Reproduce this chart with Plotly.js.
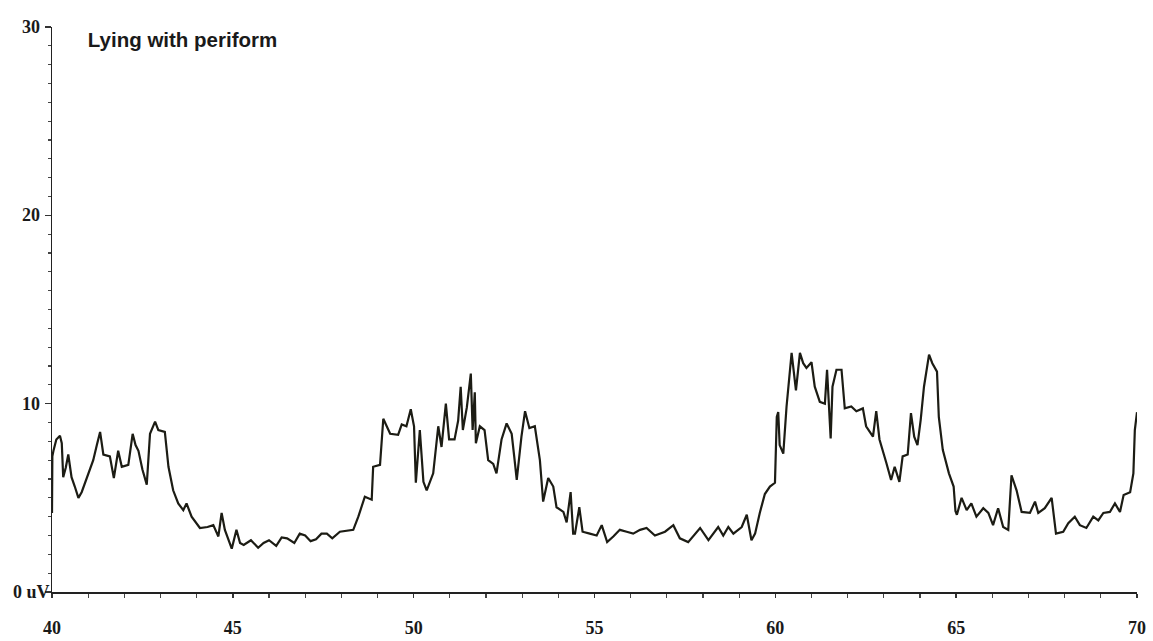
<!DOCTYPE html>
<html>
<head>
<meta charset="utf-8">
<script src="https://cdn.plot.ly/plotly-3.0.1.min.js"></script>
<style>html,body{margin:0;padding:0;background:#fff;}#chart{width:1153px;height:641px;}</style>
</head>
<body>
<div id="chart"></div>
<script>
const chartTitle = "Lying with periform";

const timeSec = [
  40.0, 40.01, 40.04, 40.12, 40.22, 40.27, 40.31, 40.38, 40.45, 40.54, 40.63, 40.73, 40.82, 40.91,
  41.02, 41.14, 41.24, 41.33, 41.42, 41.6, 41.71, 41.83, 41.93, 42.11, 42.23, 42.31, 42.39, 42.5,
  42.62, 42.71, 42.85, 42.94, 43.12, 43.22, 43.35, 43.49, 43.63, 43.72, 43.86, 44.09, 44.3, 44.46,
  44.6, 44.69, 44.78, 44.9, 44.97, 45.1, 45.2, 45.3, 45.5, 45.7, 45.85, 46.0, 46.2, 46.35, 46.5,
  46.7, 46.85, 47.0, 47.15, 47.3, 47.45, 47.6, 47.75, 47.96, 48.15, 48.33, 48.47, 48.65, 48.84,
  48.88, 49.07, 49.16, 49.35, 49.57, 49.67, 49.8, 49.92, 50.01, 50.06, 50.11, 50.17, 50.27, 50.36,
  50.54, 50.68, 50.77, 50.89, 50.98, 51.13, 51.23, 51.3, 51.36, 51.47, 51.58, 51.63, 51.69, 51.72,
  51.83, 51.96, 52.06, 52.2, 52.29, 52.43, 52.57, 52.71, 52.78, 52.85, 52.98, 53.08, 53.2, 53.35,
  53.49, 53.58, 53.72, 53.86, 53.95, 54.14, 54.23, 54.34, 54.41, 54.46, 54.58, 54.67, 54.87, 55.06,
  55.2, 55.35, 55.52, 55.7, 55.89, 56.07, 56.26, 56.44, 56.67, 56.95, 57.18, 57.36, 57.59, 57.92,
  58.15, 58.42, 58.56, 58.7, 58.84, 59.07, 59.21, 59.34, 59.44, 59.57, 59.71, 59.85, 59.99, 60.04,
  60.08, 60.12, 60.22, 60.31, 60.45, 60.57, 60.68, 60.77, 60.86, 61.0, 61.09, 61.23, 61.37, 61.43,
  61.53, 61.58, 61.69, 61.83, 61.92, 62.1, 62.24, 62.42, 62.51, 62.7, 62.79, 62.88, 63.07, 63.2,
  63.3, 63.43, 63.52, 63.66, 63.75, 63.84, 63.93, 64.02, 64.11, 64.25, 64.34, 64.47, 64.52, 64.63,
  64.8, 64.93, 64.98, 65.02, 65.15, 65.29, 65.42, 65.56, 65.75, 65.89, 66.02, 66.16, 66.3, 66.44,
  66.53, 66.67, 66.81, 67.04, 67.18, 67.27, 67.45, 67.64, 67.76, 67.96, 68.1, 68.28, 68.42, 68.6,
  68.79, 68.93, 69.07, 69.25, 69.39, 69.53, 69.63, 69.81, 69.9, 69.94, 70.0
];

const emgUV = [
  4.2, 7.2, 7.5, 8.1, 8.3, 7.9, 6.1, 6.6, 7.3, 6.1, 5.6, 5.0, 5.3, 5.8,
  6.4, 7.0, 7.8, 8.5, 7.3, 7.2, 6.05, 7.5, 6.65, 6.75, 8.4, 7.8, 7.5, 6.5,
  5.7, 8.4, 9.05, 8.6, 8.5, 6.65, 5.4, 4.7, 4.35, 4.7, 4.0, 3.4, 3.45, 3.55,
  2.95, 4.2, 3.3, 2.7, 2.3, 3.3, 2.6, 2.5, 2.75, 2.35, 2.6, 2.75, 2.45, 2.9, 2.85,
  2.6, 3.1, 3.0, 2.7, 2.8, 3.1, 3.1, 2.85, 3.2, 3.25, 3.3, 4.0, 5.06, 4.9,
  6.65, 6.75, 9.2, 8.4, 8.35, 8.9, 8.8, 9.7, 8.8, 5.8, 7.0, 8.6, 5.85, 5.4,
  6.3, 8.8, 7.7, 10.0, 8.1, 8.1, 9.1, 10.9, 8.6, 9.8, 11.6, 8.6, 10.6, 7.9,
  8.8, 8.6, 7.0, 6.8, 6.3, 8.1, 8.95, 8.4, 7.2, 5.95, 8.25, 9.6, 8.7, 8.8,
  7.0, 4.8, 6.05, 5.6, 4.5, 4.25, 3.7, 5.3, 3.1, 3.1, 4.5, 3.2, 3.1, 3.0,
  3.55, 2.65, 2.95, 3.3, 3.2, 3.1, 3.3, 3.4, 3.0, 3.2, 3.55, 2.85, 2.65, 3.4,
  2.75, 3.45, 3.0, 3.45, 3.1, 3.45, 4.1, 2.75, 3.1, 4.2, 5.2, 5.6, 5.8, 9.3,
  9.55, 7.8, 7.35, 9.85, 12.7, 10.7, 12.7, 12.15, 11.9, 12.2, 10.9, 10.1, 10.0, 11.8,
  8.15, 10.9, 11.8, 11.8, 9.75, 9.85, 9.6, 9.75, 8.8, 8.25, 9.6, 8.1, 6.85, 5.95,
  6.65, 5.85, 7.2, 7.3, 9.5, 8.25, 7.8, 9.15, 10.9, 12.6, 12.15, 11.7, 9.3, 7.55,
  6.3, 5.6, 4.3, 4.1, 5.0, 4.35, 4.7, 4.0, 4.45, 4.2, 3.55, 4.45, 3.45, 3.3,
  6.2, 5.4, 4.25, 4.2, 4.8, 4.2, 4.45, 5.0, 3.1, 3.2, 3.65, 4.0, 3.55, 3.4,
  4.0, 3.8, 4.2, 4.25, 4.7, 4.25, 5.15, 5.3, 6.3, 8.6, 9.55
];

const xTickVals = [40, 45, 50, 55, 60, 65, 70];
const xTickText = ["40", "45", "50", "55", "60", "65", "70"];
const yTickVals = [0, 10, 20, 30];
const yTickText = ["0 uV", "10", "20", "30"];

const labelFont = {family: "Liberation Serif, Times New Roman, serif", size: 18, color: "#1a1a1a", weight: "bold"};

const trace = {
  x: timeSec,
  y: emgUV,
  type: "scatter",
  mode: "lines",
  line: {color: "#1c1c14", width: 2.2},
  hoverinfo: "x+y"
};

const yLabelAnnotations = yTickVals.map((v, i) => ({
  xref: "paper", yref: "y",
  x: 0, y: v,
  xshift: -21,
  xanchor: "center", yanchor: "middle",
  text: yTickText[i],
  showarrow: false,
  font: labelFont
}));

const layout = {
  width: 1153,
  height: 641,
  margin: {l: 52, r: 16, t: 27, b: 49, pad: 0},
  paper_bgcolor: "#ffffff",
  plot_bgcolor: "#ffffff",
  showlegend: false,
  title: {
    text: chartTitle,
    xref: "paper", yref: "paper",
    x: 0.033, y: 0.977,
    xanchor: "left", yanchor: "middle",
    font: {family: "Liberation Sans, Arial, sans-serif", size: 20.5, color: "#1a1a1a", weight: "bold"}
  },
  xaxis: {
    range: [40, 70],
    tickmode: "array",
    tickvals: xTickVals,
    ticktext: xTickText,
    ticks: "outside",
    ticklen: 4,
    tickwidth: 1.5,
    tickcolor: "#333",
    ticklabelstandoff: 15,
    minor: {dtick: 1, tick0: 40, ticks: "outside", ticklen: 4, tickwidth: 1.2, tickcolor: "#444"},
    showline: true,
    linecolor: "#222",
    linewidth: 1.5,
    showgrid: false,
    zeroline: false,
    tickfont: labelFont
  },
  yaxis: {
    range: [0, 30],
    tickmode: "array",
    tickvals: yTickVals,
    ticks: "outside",
    ticklen: 6,
    tickwidth: 1.5,
    tickcolor: "#333",
    showticklabels: false,
    minor: {dtick: 1, tick0: 0, ticks: "outside", ticklen: 3, tickwidth: 1.2, tickcolor: "#444"},
    showline: true,
    linecolor: "#222",
    linewidth: 1.5,
    showgrid: false,
    zeroline: false
  },
  annotations: yLabelAnnotations
};

Plotly.newPlot("chart", [trace], layout, {displayModeBar: false, staticPlot: true});
</script>
</body>
</html>
